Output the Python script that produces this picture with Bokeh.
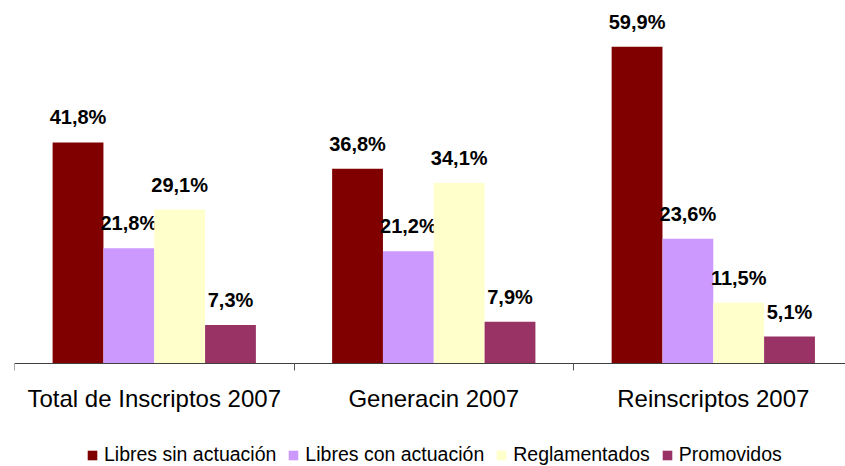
from bokeh.plotting import figure
from bokeh.models import Range1d, FixedTicker, ColumnDataSource, Legend, LegendItem
from bokeh.core.properties import value
from bokeh.embed import file_html
from bokeh.resources import INLINE

categories = ["Total de Inscriptos 2007", "Generacin 2007", "Reinscriptos 2007"]
series = ["Libres sin actuación", "Libres con actuación", "Reglamentados", "Promovidos"]
libres_sin = [41.8, 36.8, 59.9]
libres_con = [21.8, 21.2, 23.6]
reglamentados = [29.1, 34.1, 11.5]
promovidos = [7.3, 7.9, 5.1]
colors = ["#800000", "#CC99FF", "#FFFFCC", "#993366"]

values = [libres_sin, libres_con, reglamentados, promovidos]

FONT = "Liberation Sans"
bar_w = 1 / 5.5

p = figure(width=845, height=466, output_backend="svg", toolbar_location=None,
           x_range=Range1d(0.5, 3.473), y_range=Range1d(-19.47, 68.62),
           min_border_left=14, min_border_right=0, min_border_top=0, min_border_bottom=0)
p.outline_line_color = None
p.xgrid.visible = False
p.ygrid.visible = False
p.yaxis.visible = False

items = []
for j, (name, vals, col) in enumerate(zip(series, values, colors)):
    xs = [i + 1 + (j - 1.5) * bar_w for i in range(len(categories))]
    src = ColumnDataSource(dict(x=xs, top=vals,
                                lab=[f"{v:.1f}".replace(".", ",") + "%" for v in vals]))
    r = p.vbar(x="x", top="top", width=bar_w, bottom=0, source=src,
               fill_color=col, line_color=None)
    p.text(x="x", y="top", text="lab", source=src, text_align="center",
           text_baseline="alphabetic", y_offset=-25,
           text_font=value(FONT), text_font_size="20px", text_font_style="bold",
           text_color="#000000")
    items.append(LegendItem(label=name, renderers=[r]))

ax = p.xaxis[0]
ax.fixed_location = 0
ax.ticker = FixedTicker(ticks=[i + 1 for i in range(len(categories))],
                        minor_ticks=[i + 0.5 for i in range(len(categories) + 1)])
ax.major_label_overrides = {i + 1: c for i, c in enumerate(categories)}
ax.major_tick_line_color = None
ax.major_tick_out = 0
ax.major_tick_in = 0
ax.minor_tick_out = 7
ax.minor_tick_in = 0
ax.minor_tick_line_color = "#555555"
ax.axis_line_color = "#404040"
ax.major_label_standoff = 14
ax.major_label_text_font = FONT
ax.major_label_text_font_size = "24px"
ax.major_label_text_color = "#000000"

legend = Legend(items=items, orientation="horizontal", location=(72, 0),
                padding=0, margin=0, spacing=11, label_standoff=6,
                glyph_width=12, glyph_height=12, label_height=12,
                label_text_font=FONT, label_text_font_size="19.5px",
                label_text_color="#000000",
                border_line_color=None, background_fill_alpha=0)
p.add_layout(legend, "center")

open("out.html", "w").write(file_html(p, INLINE))
